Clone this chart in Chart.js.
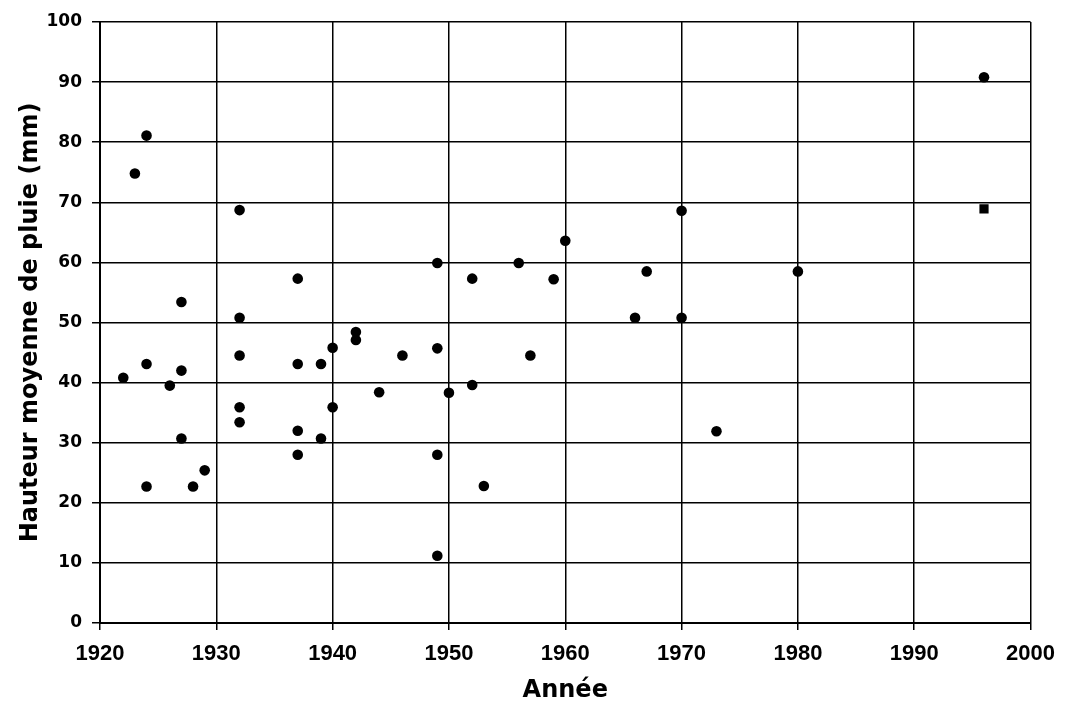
<!DOCTYPE html>
<html lang="fr">
<head>
<meta charset="utf-8">
<title>Hauteur moyenne de pluie</title>
<script src="https://cdn.jsdelivr.net/npm/chart.js@4/dist/chart.umd.min.js"></script>
<style>
  html, body { margin: 0; padding: 0; background: #fff; }
  #wrap { width: 1066px; height: 707px; position: relative; }
</style>
</head>
<body>
<div id="wrap"><canvas id="c" width="1066" height="707"></canvas></div>
<script>
// Observations: year and mean rainfall depth (mm)
const years = [
  1922, 1923, 1924, 1924, 1924, 1926, 1927, 1927, 1927, 1928, 1929,
  1932, 1932, 1932, 1932, 1932, 1937, 1937, 1937, 1937, 1939, 1939,
  1940, 1940, 1942, 1942, 1944, 1946, 1949, 1949, 1949, 1949, 1950,
  1952, 1952, 1953, 1956, 1957, 1959, 1960, 1966, 1967, 1970, 1970,
  1973, 1980, 1996
];
const rain = [
  40.8, 74.8, 81.1, 43.1, 22.7, 39.5, 53.4, 42.0, 30.7, 22.7, 25.4,
  68.7, 50.8, 44.5, 35.9, 33.4, 57.3, 43.1, 32.0, 28.0, 43.1, 30.7,
  45.8, 35.9, 48.4, 47.1, 38.4, 44.5, 59.9, 45.7, 28.0, 11.2, 38.3,
  57.3, 39.6, 22.8, 59.9, 44.5, 57.2, 63.6, 50.8, 58.5, 68.6, 50.8,
  31.9, 58.5, 90.8
];

// Separate marker for the latest observation
const extraYears = [1996];
const extraRain = [68.9];

// Axis ticks
const xTicks = [1920, 1930, 1940, 1950, 1960, 1970, 1980, 1990, 2000];
const yTicks = [0, 10, 20, 30, 40, 50, 60, 70, 80, 90, 100];

const xTitle = 'Année';
const yTitle = 'Hauteur moyenne de pluie (mm)';

const toPoints = (xs, ys) => xs.map((x, i) => ({ x: x, y: ys[i] }));

const titleFont = { family: "'DejaVu Sans', 'Liberation Sans', sans-serif", size: 24, weight: 'bold' };

new Chart(document.getElementById('c'), {
  type: 'scatter',
  data: {
    datasets: [
      {
        label: 'Hauteur moyenne',
        data: toPoints(years, rain),
        pointStyle: 'circle',
        pointRadius: 5.3,
        pointHoverRadius: 5.3,
        backgroundColor: '#000',
        borderColor: '#000',
        borderWidth: 0
      },
      {
        label: '1996',
        data: toPoints(extraYears, extraRain),
        pointStyle: 'rect',
        pointRadius: 6.5,
        pointHoverRadius: 6.5,
        backgroundColor: '#000',
        borderColor: '#000',
        borderWidth: 0
      }
    ]
  },
  options: {
    responsive: false,
    animation: false,
    devicePixelRatio: 1,
    layout: { padding: { top: 22, right: 30, left: 0, bottom: 0 } },
    plugins: {
      legend: { display: false },
      tooltip: { enabled: false }
    },
    scales: {
      x: {
        type: 'linear',
        min: 1920,
        max: 2000,
        afterBuildTicks: (s) => { s.ticks = xTicks.map(v => ({ value: v })); },
        afterFit: (s) => { s.height = 84; },
        ticks: {
          padding: 11,
          color: '#000',
          font: { family: "'Liberation Sans', Arial, sans-serif", size: 22, weight: 'bold' },
          callback: (v) => String(v),
          maxRotation: 0
        },
        grid: {
          color: '#000',
          lineWidth: 1.5,
          tickLength: 7,
          drawTicks: true
        },
        border: { color: '#000', width: 2 },
        title: {
          display: true,
          text: xTitle,
          color: '#000',
          font: titleFont,
          padding: { top: 0, bottom: 2 }
        }
      },
      y: {
        type: 'linear',
        min: 0,
        max: 100,
        afterBuildTicks: (s) => { s.ticks = yTicks.map(v => ({ value: v })); },
        afterFit: (s) => { s.width = 100; },
        ticks: {
          padding: 10,
          color: '#000',
          font: { family: "'DejaVu Sans', 'Liberation Sans', sans-serif", size: 17, weight: 'bold' },
          callback: (v) => String(v)
        },
        grid: {
          color: '#000',
          lineWidth: 1.5,
          tickLength: 8,
          drawTicks: true
        },
        border: { color: '#000', width: 2 },
        title: {
          display: true,
          text: yTitle,
          color: '#000',
          font: titleFont,
          padding: { top: 16, bottom: 0 }
        }
      }
    }
  }
});
</script>
</body>
</html>
